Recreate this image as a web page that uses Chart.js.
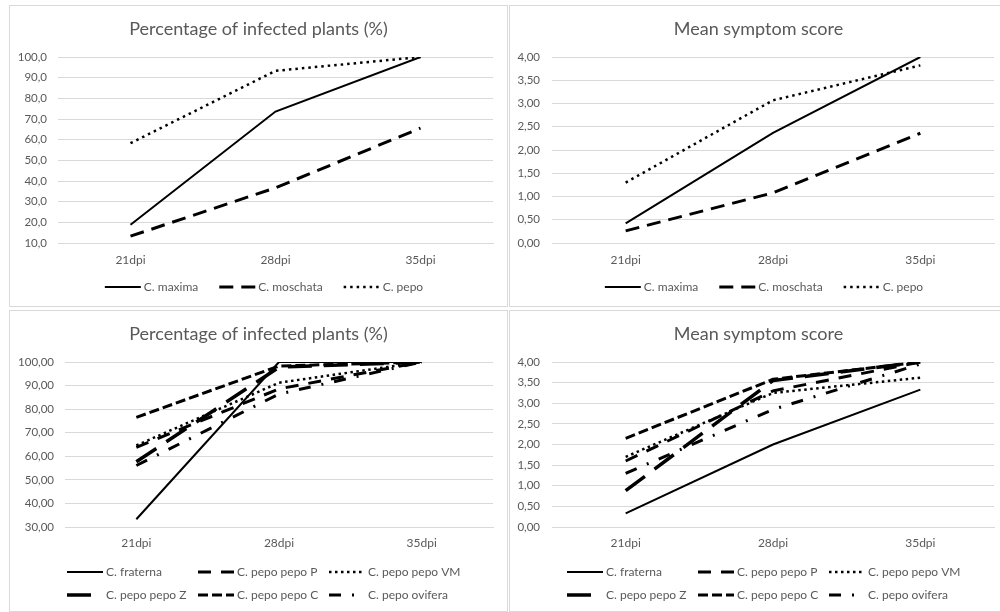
<!DOCTYPE html>
<html>
<head>
<meta charset="utf-8">
<script src="https://cdn.jsdelivr.net/npm/chart.js@4.4.1/dist/chart.umd.min.js"></script>
<style>
  html, body { margin: 0; padding: 0; background: #fff; overflow: hidden; }
  body { width: 1000px; height: 612px; position: relative; }
  .panel { position: absolute; width: 497px; height: 300px; border: 1px solid #d9d9d9; }
  .panel canvas { display: block; }
</style>
</head>
<body>
<div class="panel" style="left:9px;top:5px"><canvas id="pctSpecies" width="497" height="300"></canvas></div>
<div class="panel" style="left:509px;top:5px"><canvas id="scoreSpecies" width="497" height="300"></canvas></div>
<div class="panel" style="left:9px;top:310px"><canvas id="pctVarieties" width="497" height="300"></canvas></div>
<div class="panel" style="left:509px;top:310px"><canvas id="scoreVarieties" width="497" height="300"></canvas></div>
<script>
const days = ['21dpi', '28dpi', '35dpi'];

// top row: species
const species = ['C. maxima', 'C. moschata', 'C. pepo'];
const pctMaxima = [18.8, 73.6, 100];
const pctMoschata = [13.3, 36.7, 65.6];
const pctPepo = [58.3, 93.3, 100];
const scoreMaxima = [0.42, 2.37, 4.0];
const scoreMoschata = [0.26, 1.08, 2.36];
const scorePepo = [1.30, 3.07, 3.82];

// bottom row: C. fraterna and C. pepo varieties
const varieties = ['C. fraterna', 'C. pepo pepo P', 'C. pepo pepo VM',
  'C. pepo pepo Z', 'C. pepo pepo C', 'C. pepo ovifera'];
const pctFraterna = [33.3, 100, 100];
const pctPepoP = [63.8, 88.6, 100];
const pctPepoVM = [64.6, 91.2, 100];
const pctPepoZ = [57.7, 97.8, 100];
const pctPepoC = [76.5, 98.3, 100];
const pctOvifera = [56.1, 86.4, 100];
const scoreFraterna = [0.33, 2.0, 3.33];
const scorePepoP = [1.60, 3.30, 4.0];
const scorePepoVM = [1.70, 3.25, 3.62];
const scorePepoZ = [0.88, 3.55, 4.0];
const scorePepoC = [2.15, 3.58, 4.0];
const scoreOvifera = [1.30, 2.85, 3.95];

const textColor = '#595959';
const gridColor = '#d9d9d9';
const fontFamily = 'Lato, "Open Sans", sans-serif';

// line styles (width, dash)
const speciesStyle = [
  { w: 2, dash: [] },
  { w: 3, dash: [14, 8] },
  { w: 2.5, dash: [2.5, 4] }
];
const varietyStyle = [
  { w: 2, dash: [] },
  { w: 3, dash: [13, 10] },
  { w: 2.5, dash: [2.5, 3.5] },
  { w: 3.5, dash: [24, 12] },
  { w: 3, dash: [10, 4] },
  { w: 3, dash: [12, 11, 2, 11] }
];

const comma = (v, d) => v.toFixed(d).replace('.', ',');

// legend drawn as line samples, one row centred or fixed columns
const lineLegend = {
  id: 'lineLegend',
  afterDraw(chart, args, opts) {
    const ctx = chart.ctx;
    const sets = chart.data.datasets;
    ctx.save();
    ctx.font = '12px ' + fontFamily;
    ctx.textBaseline = 'middle';
    let pos;
    if (opts.cols) {
      pos = sets.map((ds, i) => ({ x: opts.cols[i % opts.cols.length], y: opts.rows[Math.floor(i / opts.cols.length)] }));
    } else {
      const widths = sets.map(ds => 40 + ctx.measureText(ds.label).width);
      const total = widths.reduce((a, b) => a + b, 0) + 20 * (sets.length - 1);
      let x = (chart.width - total) / 2 + 6;
      pos = widths.map(w => { const p = { x, y: opts.rows[0] }; x += w + 20; return p; });
    }
    sets.forEach((ds, i) => {
      const { x, y } = pos[i];
      ctx.beginPath();
      ctx.setLineDash(ds.borderDash);
      ctx.lineWidth = ds.borderWidth;
      ctx.strokeStyle = ds.borderColor;
      ctx.lineCap = 'butt';
      ctx.moveTo(x, y);
      ctx.lineTo(x + 36, y);
      ctx.stroke();
      ctx.setLineDash([]);
      ctx.fillStyle = textColor;
      ctx.fillText(ds.label, x + 39, y + 0.5);
    });
    ctx.restore();
  }
};

function makeChart(id, title, names, series, styles, axis, box, legend) {
  const datasets = names.map((n, i) => ({
    label: n,
    data: series[i],
    borderColor: '#000',
    borderWidth: styles[i].w,
    borderDash: styles[i].dash,
    pointRadius: 0,
    fill: false,
    tension: 0
  }));
  const titleSize = 18;
  const titleTop = 23 - titleSize * 0.6;
  new Chart(document.getElementById(id), {
    type: 'line',
    data: { labels: days, datasets },
    plugins: [lineLegend],
    options: {
      responsive: false,
      animation: false,
      layout: { padding: { left: 0, top: 0, right: 0, bottom: 300 - box.bottom - 40 } },
      plugins: {
        legend: { display: false },
        tooltip: { enabled: false },
        title: {
          display: true,
          text: title,
          color: textColor,
          font: { family: fontFamily, size: titleSize, weight: 'normal' },
          padding: { top: titleTop, bottom: box.top - titleTop - titleSize * 1.2 }
        },
        lineLegend: legend
      },
      scales: {
        x: {
          offset: true,
          grid: { display: false, drawTicks: false },
          border: { display: true, color: gridColor },
          ticks: { color: textColor, font: { family: fontFamily, size: 12 }, padding: box.xLabel - box.bottom - 7 },
          afterFit: a => { a.height = 40; }
        },
        y: {
          min: axis.min,
          max: axis.max,
          grid: { color: gridColor, drawTicks: false },
          border: { display: false },
          ticks: {
            stepSize: axis.step,
            color: textColor,
            font: { family: fontFamily, size: 11.5 },
            padding: box.left - box.yLabel,
            callback: v => comma(v, axis.dec)
          },
          afterFit: a => { a.width = box.left; }
        },
        // empty right-hand axis that only reserves the right margin
        spacer: {
          type: 'linear',
          position: 'right',
          grid: { display: false, drawTicks: false },
          border: { display: false },
          ticks: { display: false },
          afterFit: a => { a.width = 497 - box.right; }
        }
      }
    }
  });
}

const topLegend = { rows: [281] };
const bottomLegend = { rows: [261, 284], cols: [57, 188, 319] };

makeChart('pctSpecies', 'Percentage of infected plants (%)', species,
  [pctMaxima, pctMoschata, pctPepo], speciesStyle,
  { min: 10, max: 100, step: 10, dec: 1 },
  { left: 48, right: 483, top: 51, bottom: 237, yLabel: 37, xLabel: 254 }, topLegend);

makeChart('scoreSpecies', 'Mean symptom score', species,
  [scoreMaxima, scoreMoschata, scorePepo], speciesStyle,
  { min: 0, max: 4, step: 0.5, dec: 2 },
  { left: 42, right: 484, top: 51, bottom: 237, yLabel: 30, xLabel: 254 }, topLegend);

makeChart('pctVarieties', 'Percentage of infected plants (%)', varieties,
  [pctFraterna, pctPepoP, pctPepoVM, pctPepoZ, pctPepoC, pctOvifera], varietyStyle,
  { min: 30, max: 100, step: 10, dec: 2 },
  { left: 55, right: 483, top: 51, bottom: 216, yLabel: 44, xLabel: 232 }, bottomLegend);

makeChart('scoreVarieties', 'Mean symptom score', varieties,
  [scoreFraterna, scorePepoP, scorePepoVM, scorePepoZ, scorePepoC, scoreOvifera], varietyStyle,
  { min: 0, max: 4, step: 0.5, dec: 2 },
  { left: 42, right: 484, top: 51, bottom: 216, yLabel: 30, xLabel: 232 }, bottomLegend);
</script>
</body>
</html>
